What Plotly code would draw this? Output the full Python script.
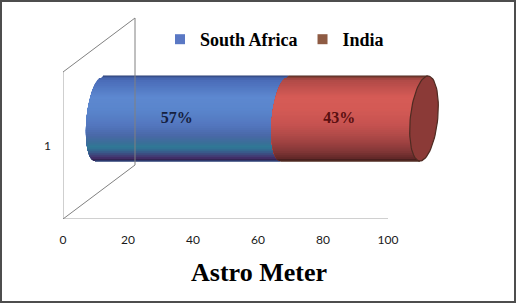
import numpy as np
import plotly.graph_objects as go

# ---------------- data ----------------
categories = ["1"]
series_names = ["South Africa", "India"]
series_values = [57, 43]
x_ticks = [0, 20, 40, 60, 80, 100]
chart_title = "Astro Meter"

# ---------------- styling ----------------
W, H = 516, 303
ML, MR, MT, MB = 63, 71, 15, 84
PX_PER_X = 3.25            # pixels per value unit
PX_PER_Y = 147.0           # pixels per category unit
X_RANGE = [0, (W - ML - MR) / PX_PER_X]
Y_RANGE = [-0.5, -0.5 + (H - MT - MB) / PX_PER_Y]

DEPTH_PX = (72.0, 54.0)    # full 3D depth offset in px
dx_full = DEPTH_PX[0] / PX_PER_X
dy_full = DEPTH_PX[1] / PX_PER_Y
dx_half, dy_half = dx_full / 2, dy_full / 2

R = 42.5 / PX_PER_Y        # cylinder radius (vertical, units)
A = 12.5 / PX_PER_X        # ellipse half width (units)
S = 4.0 / PX_PER_X         # ellipse shear (units)
LABEL_DX = 21.0 / PX_PER_X

SERIF = "Liberation Serif"

grad = {
    "South Africa": [(1.0, "#3f5a9c"), (0.9, "#4a6cb8"), (0.5, "#5d88d0"), (0.2, "#5a85cc"),
                     (-0.15, "#5377bf"), (-0.4, "#4a68a8"), (-0.58, "#3a6f98"), (-0.68, "#2f7a96"),
                     (-0.8, "#39598a"), (-0.92, "#45306a"), (-1.0, "#2a1f4a")],
    "India": [(1.0, "#7a3a30"), (0.9, "#b04a47"), (0.5, "#d65b56"), (0.2, "#d35a55"),
              (-0.15, "#c65250"), (-0.4, "#b04a48"), (-0.6, "#9a4040"), (-0.8, "#7e3535"),
              (-0.95, "#5e2626"), (-1.0, "#3a1a18")],
}
legend_colors = {"South Africa": "#5a78c4", "India": "#8e5b43"}
edge_colors = {"South Africa": "#2b3f74", "India": "#4f2b22"}
label_colors = {"South Africa": "#15203f", "India": "#5a0f10"}
CAP_FILL, CAP_EDGE = "#8b3a37", "#4f2b22"


def hex2rgb(h):
    h = h.lstrip("#")
    return np.array([int(h[i:i + 2], 16) for i in (0, 2, 4)], float)


def color_at(stops, u):
    for (u1, c1), (u2, c2) in zip(stops, stops[1:]):
        if u2 <= u <= u1:
            t = 0 if u1 == u2 else (u1 - u) / (u1 - u2)
            c = hex2rgb(c1) * (1 - t) + hex2rgb(c2) * t
            return "rgb(%d,%d,%d)" % tuple(np.round(c))
    return stops[-1][1]


fig = go.Figure()

yc = 0 + dy_half
N = 44
cum = np.concatenate([[0], np.cumsum(series_values)])

for i, name in enumerate(series_names):
    xl = cum[i] + dx_half
    xr = cum[i + 1] + dx_half
    for k in range(N):
        u_top = 1 - 2 * k / N
        us = np.linspace(u_top, -1, 12)
        lx = xl - A * np.sqrt(np.clip(1 - us ** 2, 0, 1)) + S * us
        rx = xr + A * np.sqrt(np.clip(1 - us[::-1] ** 2, 0, 1)) + S * us[::-1]
        px = np.concatenate([lx, rx, lx[:1]])
        py = np.concatenate([yc + R * us, yc + R * us[::-1], [yc + R * us[0]]])
        col = color_at(grad[name], u_top - 1.0 / N)
        fig.add_trace(go.Scatter(x=px, y=py, mode="lines", fill="toself", fillcolor=col,
                                 line=dict(width=0), showlegend=False, hoverinfo="skip"))
    fig.add_trace(go.Scatter(x=[xl + S, xr + S], y=[yc + R, yc + R], mode="lines",
                             line=dict(color=edge_colors[name], width=1.2),
                             showlegend=False, hoverinfo="skip"))
    fig.add_trace(go.Scatter(x=[xl - S, xr - S], y=[yc - R, yc - R], mode="lines",
                             line=dict(color=edge_colors[name], width=1.5),
                             showlegend=False, hoverinfo="skip"))

# right end cap
t = np.linspace(0, 2 * np.pi, 80)
xe = cum[-1] + dx_half
fig.add_trace(go.Scatter(x=xe + A * 1.1 * np.cos(t) + S * np.sin(t), y=yc + R * np.sin(t),
                         mode="lines", fill="toself", fillcolor=CAP_FILL,
                         line=dict(color=CAP_EDGE, width=1.2), showlegend=False, hoverinfo="skip"))

# data labels
for i, name in enumerate(series_names):
    v = series_values[i]
    fig.add_trace(go.Scatter(x=[cum[i] + v / 2 + LABEL_DX], y=[yc], mode="text",
                             text=[f"<b>{v}%</b>"],
                             textfont=dict(family=SERIF, size=16, color=label_colors[name]),
                             showlegend=False, hoverinfo="skip"))

# 3D frame lines
frame_col = "#a0a0a0"
diag_col = "#808080"
fig.add_trace(go.Scatter(x=[0, 0], y=[-0.5, 0.5], mode="lines", line=dict(color=frame_col, width=1),
                         showlegend=False, hoverinfo="skip"))
fig.add_trace(go.Scatter(x=[x_ticks[0], x_ticks[-1]], y=[-0.5, -0.5], mode="lines",
                         line=dict(color=frame_col, width=1), showlegend=False, hoverinfo="skip"))
fig.add_trace(go.Scatter(x=[0, dx_full, dx_full, 0], y=[0.5, 0.5 + dy_full, -0.5 + dy_full, -0.5],
                         mode="lines", line=dict(color=diag_col, width=1),
                         showlegend=False, hoverinfo="skip"))

# legend entries
for name in series_names:
    fig.add_trace(go.Scatter(x=[None], y=[None], mode="markers", name=f"<b>{name}</b>",
                             marker=dict(symbol="square", size=10, color=legend_colors[name])))

# outer border
fig.add_shape(type="rect", xref="paper", yref="paper",
              x0=(1 - ML) / (W - ML - MR), x1=(515 - ML) / (W - ML - MR),
              y0=((H - MB) - 302) / (H - MT - MB), y1=((H - MB) - 1) / (H - MT - MB),
              line=dict(color="#4d4d4d", width=2))

fig.update_layout(
    width=W, height=H,
    margin=dict(l=ML, r=MR, t=MT, b=MB),
    paper_bgcolor="white", plot_bgcolor="white",
    hovermode=False,
    title=dict(text=f"<b>{chart_title}</b>", x=259 / W, xanchor="center", y=1 - 272 / H, yanchor="middle",
               font=dict(family=SERIF, size=26, color="black")),
    legend=dict(orientation="h", x=(160 - ML) / (W - ML - MR), xanchor="left",
                y=((H - MB) - 21) / (H - MT - MB), yanchor="top",
                font=dict(family=SERIF, size=18, color="black"),
                bgcolor="rgba(0,0,0,0)"),
    xaxis=dict(range=X_RANGE, tickvals=x_ticks, ticktext=[str(v) for v in x_ticks],
               showgrid=False, zeroline=False, showline=False, ticks="",
               ticklabelstandoff=12, tickfont=dict(family="Lato", size=12, color="#1a1a1a")),
    yaxis=dict(range=Y_RANGE, tickvals=[0], ticktext=categories,
               showgrid=False, zeroline=False, showline=False, ticks="",
               ticklabelstandoff=11, tickfont=dict(family="Lato", size=12, color="#1a1a1a")),
)

fig.write_html("out.html")
